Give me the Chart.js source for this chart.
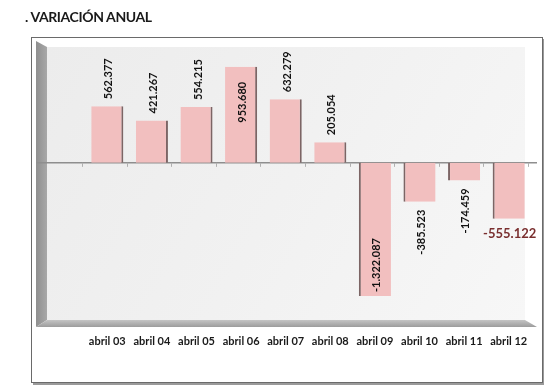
<!DOCTYPE html>
<html><head><meta charset="utf-8">
<script src="https://cdn.jsdelivr.net/npm/chart.js@4"></script>
<style>
html,body{margin:0;padding:0;background:#fff;}
#wrap{position:relative;width:559px;height:388px;overflow:hidden;}
canvas{position:absolute;left:0;top:0;}
#title{position:absolute;left:25px;top:8px;font:bold 14px Lato, sans-serif;color:#1a1a1a;letter-spacing:-0.4px;}
</style></head><body>
<div id="wrap"><canvas id="c" width="559" height="388"></canvas><div id="title">. VARIACIÓN ANUAL</div></div>
<script>
const categories = ['abril 03','abril 04','abril 05','abril 06','abril 07','abril 08','abril 09','abril 10','abril 11','abril 12'];
const values = [562377, 421267, 554215, 953680, 632279, 205054, -1322087, -385523, -174459, -555122];
const labelPlacement = ['out','out','out','in','out','out','in','out','out','flat'];
const yMin = -1560000, yMax = 1150000;

function fmt(v){
  const s = Math.abs(v).toString().replace(/\B(?=(\d{3})+(?!\d))/g,'.');
  return (v<0?'-':'')+s;
}

const backdrop = {
  id:'backdrop',
  beforeDraw(chart){
    const ctx = chart.ctx, ca = chart.chartArea;
    const y0 = chart.scales.y.getPixelForValue(0);
    ctx.save();
    ctx.fillStyle='#9a9a9a'; ctx.fillRect(33,39,511,346);
    ctx.fillStyle='#ffffff'; ctx.fillRect(31,37,511,345);
    ctx.strokeStyle='#6a6a6a'; ctx.lineWidth=1; ctx.strokeRect(31.5,37.5,511,345);
    const wl=47, wr=525, wt=ca.top, wb=ca.bottom;
    const g=ctx.createLinearGradient(wl,wt,wr,wb);
    g.addColorStop(0,'#ececec'); g.addColorStop(0.5,'#f1f1f1'); g.addColorStop(1,'#f7f7f7');
    ctx.fillStyle=g; ctx.fillRect(wl,wt,wr-wl,wb-wt);
    const gl=ctx.createLinearGradient(36,0,47,0);
    gl.addColorStop(0,'#8f8f8f'); gl.addColorStop(1,'#a8a8a8');
    ctx.fillStyle=gl;
    ctx.beginPath(); ctx.moveTo(36,41); ctx.lineTo(wl,wt); ctx.lineTo(wl,wb); ctx.lineTo(36,wb+7); ctx.closePath(); ctx.fill();
    const gf=ctx.createLinearGradient(0,wb,0,wb+7);
    gf.addColorStop(0,'#c4c4c4'); gf.addColorStop(1,'#9c9c9c');
    ctx.fillStyle=gf;
    ctx.beginPath(); ctx.moveTo(36,wb+7); ctx.lineTo(wl,wb); ctx.lineTo(wr,wb); ctx.lineTo(537,wb+7); ctx.closePath(); ctx.fill();
    ctx.strokeStyle='#8e8e8e'; ctx.lineWidth=1.5;
    ctx.beginPath(); ctx.moveTo(36,y0); ctx.lineTo(537,y0); ctx.stroke();
    const xs=chart.scales.x; const step=(xs.getPixelForValue(1)-xs.getPixelForValue(0));
    ctx.strokeStyle='#b0b0b0'; ctx.lineWidth=1;
    for(let i=0;i<=categories.length;i++){
      const x=Math.round(xs.getPixelForValue(0)-step/2+i*step)-2.5;
      ctx.beginPath(); ctx.moveTo(x,y0); ctx.lineTo(x,y0+4); ctx.stroke();
    }
    ctx.restore();
  }
};

const valueLabels = {
  id:'valueLabels',
  afterDatasetsDraw(chart){
    const ctx=chart.ctx; const meta=chart.getDatasetMeta(0);
    meta.data.forEach((bar,i)=>{
      const v=values[i], txt=fmt(v), p=labelPlacement[i];
      ctx.save();
      if(p==='flat'){
        ctx.font='bold 13px Lato, sans-serif'; ctx.fillStyle='#7a2f2f';
        ctx.textAlign='center'; ctx.textBaseline='middle';
        ctx.fillText(txt, bar.x+1, bar.y+15);
      } else {
        ctx.font='bold 11px Lato, sans-serif'; ctx.fillStyle='#111';
        ctx.textBaseline='middle';
        let ay, align;
        if(v>=0){
          if(p==='out'){ ay=bar.y-7; align='left'; } else { ay=bar.y+15; align='right'; }
        } else {
          if(p==='out'){ ay=bar.y+8; align='right'; } else { ay=bar.y-4; align='left'; }
        }
        ctx.translate(bar.x+1.5, ay); ctx.rotate(-Math.PI/2);
        ctx.textAlign=align; ctx.fillText(txt,0,0);
      }
      ctx.restore();
    });
  }
};

new Chart(document.getElementById('c'),{
  type:'bar',
  data:{labels:categories,datasets:[{
    data:values,
    backgroundColor:'#f2bfbf',
    borderColor:'#7c6565',
    borderSkipped:false,
    borderWidth:(c)=> (values[c.dataIndex]>=0 ? {top:0,bottom:0,left:0,right:2} : {top:0,bottom:0,left:2,right:0}),
    categoryPercentage:1, barPercentage:0.72
  }]},
  options:{
    responsive:false, animation:false, devicePixelRatio:1,
    layout:{padding:{left:85,right:28,top:47,bottom:28}},
    plugins:{legend:{display:false},tooltip:{enabled:false},title:{display:false}},
    scales:{
      x:{grid:{display:false,drawTicks:false},border:{display:false},
         afterFit(s){ s.height = 40; },
         ticks:{padding:15,color:'#1a1a1a',font:{family:'Lato',weight:'bold',size:11},autoSkip:false,maxRotation:0}},
      y:{display:false,min:yMin,max:yMax}
    }
  },
  plugins:[backdrop,valueLabels]
});
</script>
</body></html>
